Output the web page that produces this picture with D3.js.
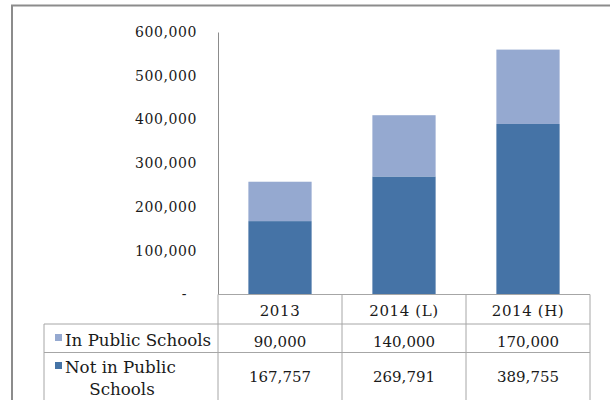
<!DOCTYPE html>
<html>
<head>
<meta charset="utf-8">
<script src="https://cdn.jsdelivr.net/npm/d3@7"></script>
<style>
  body { margin: 0; background: #fff; }
  text { font-family: "DejaVu Serif", "Liberation Serif", serif; fill: #1a1a1a; }
</style>
</head>
<body>
<div id="chart"></div>
<script>
// data
const categories = ["2013", "2014 (L)", "2014 (H)"];
const seriesNames = ["Not in Public Schools", "In Public Schools"];
const notInPublic = [167757, 269791, 389755];
const inPublic = [90000, 140000, 170000];
const yTicks = [0, 100000, 200000, 300000, 400000, 500000, 600000];

const colors = { "In Public Schools": "#95a9d0", "Not in Public Schools": "#4573a6" };

const width = 610, height = 400;
const plotLeft = 218, plotRight = 590, plotTop = 32, plotBottom = 294.5;

let svg = d3.select("#chart")
    .append("svg")
    .attr("width", width)
    .attr("height", height);

// outer frame (cut off at right and bottom)
svg.append("rect")
    .attr("x", 12).attr("y", 5.5)
    .attr("width", 620).attr("height", 420)
    .attr("fill", "none")
    .attr("stroke", "#8c8c8c")
    .attr("stroke-width", 2);

let x = d3.scaleBand()
    .domain(categories)
    .range([plotLeft, plotRight])
    .paddingInner(0.49)
    .paddingOuter(0.245);

let y = d3.scaleLinear()
    .domain([0, 600000])
    .range([plotBottom, plotTop]);

// stacked data
let rows = categories.map((c, i) => ({
    cat: c,
    "Not in Public Schools": notInPublic[i],
    "In Public Schools": inPublic[i]
}));
let stack = d3.stack().keys(seriesNames)(rows);

svg.append("g")
    .selectAll("g")
    .data(stack)
    .enter()
    .append("g")
    .attr("fill", d => colors[d.key])
    .selectAll("rect")
    .data(d => d)
    .enter()
    .append("rect")
    .attr("x", d => x(d.data.cat))
    .attr("y", d => y(d[1]))
    .attr("width", x.bandwidth())
    .attr("height", d => y(d[0]) - y(d[1]));

// y axis
let yAxis = svg.append("g")
    .attr("transform", "translate(" + plotLeft + ",0)")
    .call(d3.axisLeft(y)
        .tickValues(yTicks)
        .tickSize(0)
        .tickPadding(21)
        .tickFormat(d => d === 0 ? "-" : d3.format(",")(d)));
yAxis.select(".domain").attr("stroke", "#8c8c8c");
yAxis.selectAll("text")
    .style("font-family", "'DejaVu Serif', serif")
    .style("font-size", "14px")
    .style("letter-spacing", "0.6px")
    .attr("fill", "#1a1a1a");
// accounting style zero dash sits a bit to the left
yAxis.selectAll(".tick")
    .filter(d => d === 0)
    .select("text")
    .attr("dx", -10);

// data table under the chart
const gridColor = "#a6a6a6";
const colEdges = [plotLeft].concat(categories.map(c => x(c) + x.bandwidth() / 2 + x.step() / 2));
const rowEdges = [plotBottom, 324, 352.5, 420];
const labelLeft = 44;
let table = svg.append("g");

// horizontal lines
table.append("line")
    .attr("x1", plotLeft).attr("x2", plotRight)
    .attr("y1", rowEdges[0]).attr("y2", rowEdges[0])
    .attr("stroke", gridColor);
[rowEdges[1], rowEdges[2]].forEach(yy => {
    table.append("line")
        .attr("x1", labelLeft).attr("x2", plotRight)
        .attr("y1", yy).attr("y2", yy)
        .attr("stroke", gridColor);
});
// vertical lines
colEdges.forEach(xx => {
    table.append("line")
        .attr("x1", xx).attr("x2", xx)
        .attr("y1", rowEdges[0]).attr("y2", rowEdges[3])
        .attr("stroke", gridColor);
});
table.append("line")
    .attr("x1", labelLeft).attr("x2", labelLeft)
    .attr("y1", rowEdges[1]).attr("y2", rowEdges[3])
    .attr("stroke", gridColor);

// header
table.selectAll("header")
    .data(categories)
    .enter()
    .append("text")
    .attr("x", d => x(d) + x.bandwidth() / 2)
    .attr("y", 316)
    .attr("text-anchor", "middle")
    .style("font-size", "15px")
    .style("letter-spacing", "0.6px")
    .text(d => d);

// values
const tableRows = [
    { name: "In Public Schools", values: inPublic, y: 346.5 },
    { name: "Not in Public Schools", values: notInPublic, y: 381.5 }
];
tableRows.forEach(r => {
    table.selectAll("vals")
        .data(r.values)
        .enter()
        .append("text")
        .attr("x", (d, i) => x(categories[i]) + x.bandwidth() / 2)
        .attr("y", r.y)
        .attr("text-anchor", "middle")
        .style("font-size", "15px")
        .text(d => d3.format(",")(d));
});

// row labels with legend keys
table.append("rect")
    .attr("x", 55).attr("y", 334)
    .attr("width", 7).attr("height", 7)
    .attr("fill", colors["In Public Schools"]);
table.append("text")
    .attr("x", 65).attr("y", 345.5)
    .style("font-size", "16.7px")
    .text("In Public Schools");

table.append("rect")
    .attr("x", 55).attr("y", 362)
    .attr("width", 7).attr("height", 7)
    .attr("fill", colors["Not in Public Schools"]);
table.append("text")
    .attr("x", 65).attr("y", 373)
    .style("font-size", "16.7px")
    .text("Not in Public");
table.append("text")
    .attr("x", 122).attr("y", 395)
    .attr("text-anchor", "middle")
    .style("font-size", "16.7px")
    .text("Schools");
</script>
</body>
</html>
